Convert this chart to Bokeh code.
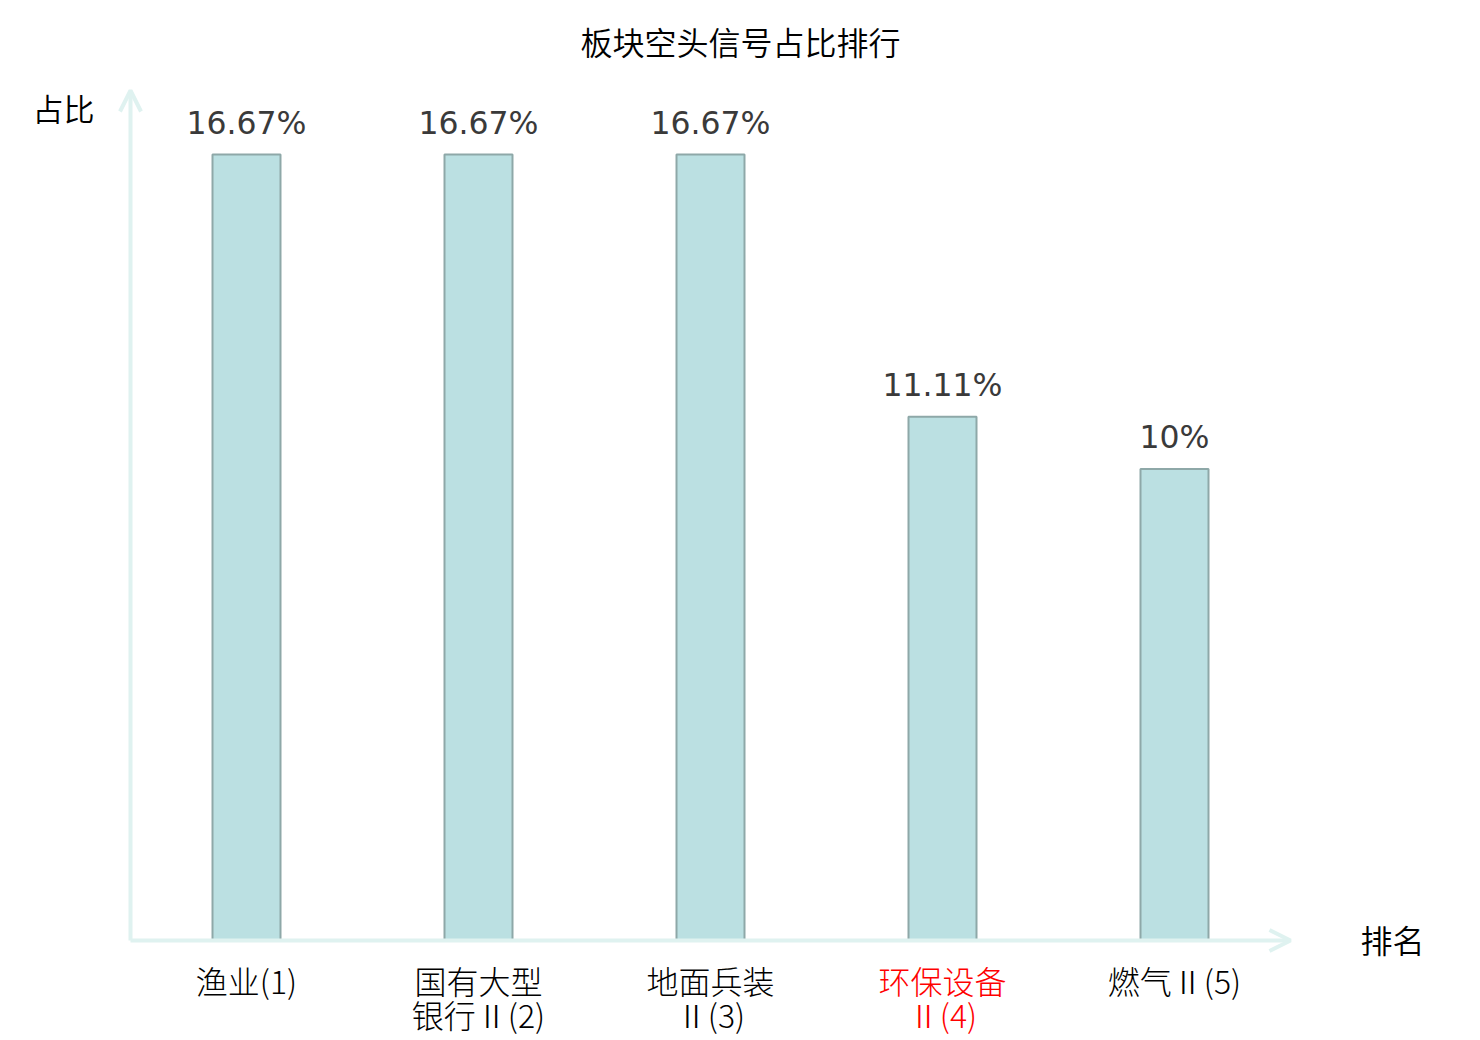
from bokeh.plotting import figure
from bokeh.models import Range1d, ColumnDataSource, Arrow, OpenHead
from bokeh.core.properties import value
from bokeh.embed import file_html
from bokeh.resources import INLINE

# ---- data ----
categories = ["渔业(1)", "国有大型\n银行Ⅱ(2)", "地面兵装\nⅡ(3)", "环保设备\nⅡ(4)", "燃气Ⅱ(5)"]
values = [16.67, 16.67, 16.67, 11.11, 10.0]
value_labels = ["16.67%", "16.67%", "16.67%", "11.11%", "10%"]
label_colors = ["#000000", "#000000", "#000000", "#ff0000", "#000000"]
title_text = "板块空头信号占比排行"
y_name = "占比"
x_name = "排名"

# ---- layout helpers (page pixel -> data) ----
W, H = 1480, 1040
X0_PAGE, X_PX = 130, 232.0       # x=0 at page x 130, 232 px per category
Y0_PAGE, Y_PX = 940, 47.15       # y=0 at page y 940
CJK = value("'Noto Sans CJK SC Light', 'Noto Sans CJK SC'")
CJK_REG = value("'Noto Sans CJK SC DemiLight', 'Noto Sans CJK SC Light', 'Noto Sans CJK SC'")

def px_x(px):
    return (px - X0_PAGE) / X_PX

def px_y(py):
    return (Y0_PAGE - py) / Y_PX

p = figure(width=W, height=H, output_backend="svg", toolbar_location=None,
           x_range=Range1d(px_x(0), px_x(W)),
           y_range=Range1d(px_y(H), px_y(0)),
           x_axis_location=None, y_axis_location=None,
           min_border=0, min_border_left=0, min_border_right=0,
           min_border_top=0, min_border_bottom=0)
p.outline_line_color = None
p.xgrid.visible = False
p.ygrid.visible = False
p.background_fill_color = "white"

xs = [i + 0.5 for i in range(len(categories))]
src = ColumnDataSource(dict(x=xs, top=values, cat=categories, lab=value_labels,
                            col=label_colors))

axis_color = "#dff2f0"
# axes with arrows
p.add_layout(Arrow(end=OpenHead(size=21, line_color=axis_color, line_width=4),
                   x_start=0, y_start=0, x_end=5, y_end=0,
                   line_color=axis_color, line_width=4))
p.add_layout(Arrow(end=OpenHead(size=21, line_color=axis_color, line_width=4),
                   x_start=0, y_start=0, x_end=0, y_end=px_y(90),
                   line_color=axis_color, line_width=4))

# bars
p.vbar(x="x", top="top", bottom=0, width=68 / X_PX, source=src,
       fill_color="#bbe0e2", line_color="#8ea8a8", line_width=2)

# value labels
p.text(x="x", y="top", text="lab", source=src, text_align="center",
       text_baseline="alphabetic", y_offset=-32,
       text_font=value("DejaVu Sans"), text_font_size="31.5px", text_color="#3a3a3a")

# category labels
p.text(x="x", y=px_y(956), text="cat", source=src, text_align="center",
       text_baseline="top", text_line_height=0.76,
       text_font=CJK, text_font_size="32px", text_color="col")

# title and axis names
p.text(x=[px_x(740)], y=[px_y(40)], text=[title_text], text_align="center",
       text_baseline="middle", text_font=CJK_REG,
       text_font_size="32px", text_color="#000000")
p.text(x=[px_x(63)], y=[px_y(107)], text=[y_name], text_align="center",
       text_baseline="middle", text_font=CJK_REG,
       text_font_size="31px", text_color="#000000")
p.text(x=[px_x(1392)], y=[px_y(938)], text=[x_name], text_align="center",
       text_baseline="middle", text_font=CJK_REG,
       text_font_size="32px", text_color="#000000")

open("out.html", "w").write(file_html(p, INLINE))
